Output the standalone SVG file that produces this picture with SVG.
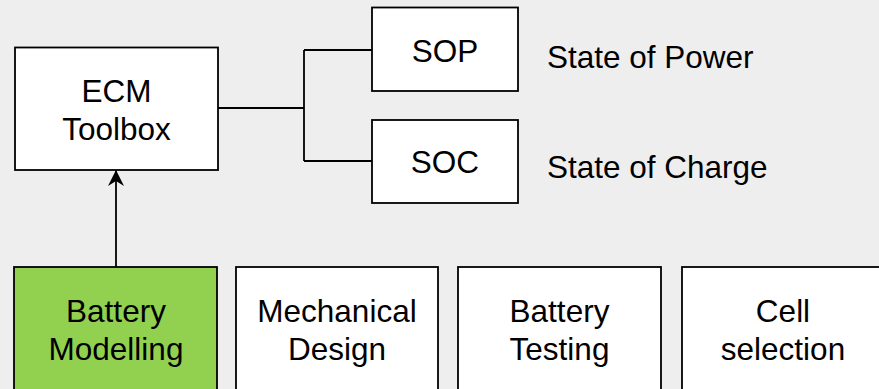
<svg xmlns="http://www.w3.org/2000/svg" width="879" height="389" viewBox="0 0 879 389">
<defs>
<style>
.box{fill:#fff;stroke:#000;stroke-width:1.8}
.green{fill:#92d050}
.t{font-family:"Liberation Sans",Arial,sans-serif;font-size:31.5px;fill:#000;text-anchor:middle}
.l{font-family:"Liberation Sans",Arial,sans-serif;font-size:31.5px;fill:#000}
.c{fill:none;stroke:#000;stroke-width:1.8}
</style>
<marker id="arr" viewBox="0 0 16 16" refX="15" refY="8" markerWidth="16" markerHeight="16" markerUnits="userSpaceOnUse" orient="auto">
<path d="M0,0 L16,8 L0,16 L5,8 Z" fill="#000"/>
</marker>
</defs>
<rect width="879" height="389" fill="#eeeeee"/>
<g id="connectors">
<path class="c" d="M218,108 H304 M304,50 V161 M304,50 H372 M304,161 H372"/>
<path class="c" d="M116,267 V171" stroke-width="2.2" marker-end="url(#arr)"/>
</g>
<g id="ecm">
<rect class="box" x="15" y="47.5" width="203" height="122.5"/>
<text class="t" x="116.5" y="102">ECM</text>
<text class="t" x="116.5" y="140">Toolbox</text>
</g>
<g id="sop">
<rect class="box" x="372" y="7.5" width="146" height="83.5"/>
<text class="t" x="445" y="62">SOP</text>
</g>
<g id="soc">
<rect class="box" x="372" y="120" width="146" height="83"/>
<text class="t" x="445" y="173">SOC</text>
</g>
<g id="sop-label"><text class="l" x="547" y="68">State of Power</text></g>
<g id="soc-label"><text class="l" x="547" y="178">State of Charge</text></g>
<g id="battery-modelling">
<rect class="box green" x="14" y="267" width="203" height="125"/>
<text class="t" x="116" y="322">Battery</text>
<text class="t" x="116" y="360">Modelling</text>
</g>
<g id="mechanical-design">
<rect class="box" x="236" y="267" width="202" height="125"/>
<text class="t" x="337" y="322">Mechanical</text>
<text class="t" x="337" y="360">Design</text>
</g>
<g id="battery-testing">
<rect class="box" x="458" y="267" width="203" height="125"/>
<text class="t" x="559.5" y="322">Battery</text>
<text class="t" x="559.5" y="360">Testing</text>
</g>
<g id="cell-selection">
<rect class="box" x="682" y="267" width="203" height="125"/>
<text class="t" x="783" y="322">Cell</text>
<text class="t" x="783" y="360">selection</text>
</g>
</svg>
